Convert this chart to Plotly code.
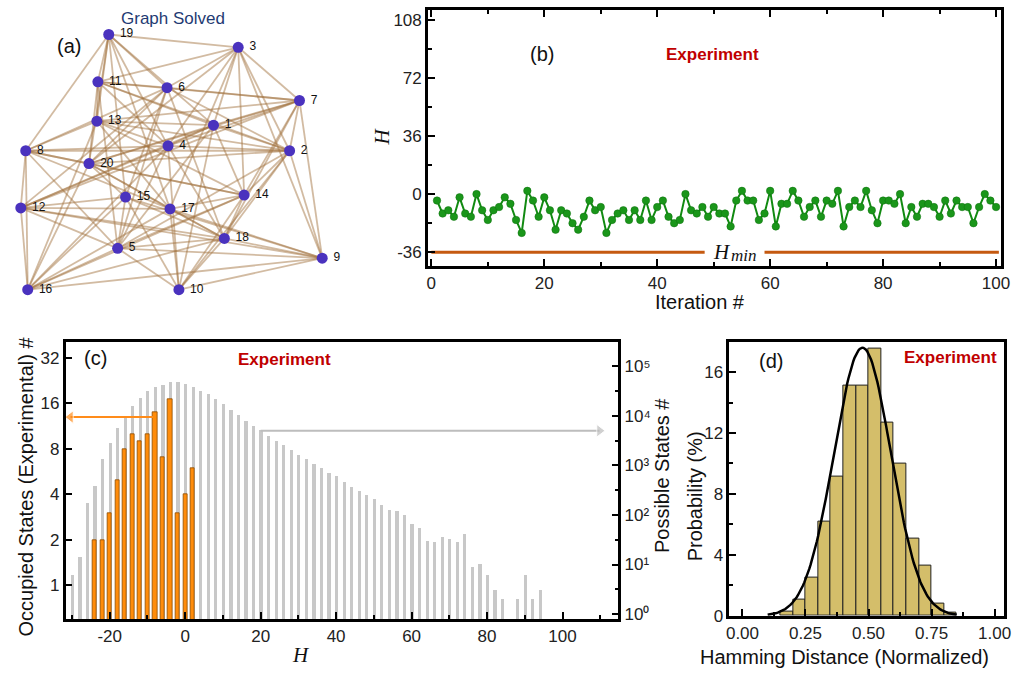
import math
import plotly.graph_objects as go

W, H = 1021, 681

# ---------------- (a) solved graph ----------------
node_ids = [19, 3, 11, 6, 7, 13, 1, 8, 4, 2, 20, 15, 12, 17, 14, 5, 18, 9, 16, 10]
node_x = [107, 238, 96, 166, 300, 95, 213, 23, 167, 290, 87, 124, 18, 169, 244, 116, 224, 323, 25, 178]
node_y = [35, 48, 83, 89, 102, 123, 127, 153, 148, 153, 166, 200, 211, 212, 198, 252, 242, 262, 294, 294]
edges = [
    (19, 3), (19, 11), (19, 13), (19, 8), (19, 20), (19, 4), (19, 1), (19, 6), (19, 15), (19, 17),
    (11, 6), (11, 3), (11, 13), (11, 4), (11, 1), (11, 2), (11, 7), (11, 20), (11, 5),
    (6, 3), (6, 7), (6, 20), (6, 15), (6, 5), (6, 12), (6, 2), (6, 18), (6, 8),
    (13, 1), (13, 4), (13, 2), (13, 7), (13, 8), (13, 16), (13, 14), (13, 17),
    (8, 4), (8, 2), (8, 12), (8, 20), (8, 14), (8, 17), (8, 5), (8, 16),
    (4, 1), (4, 2), (4, 7), (4, 3), (4, 12), (4, 16), (4, 10), (4, 18), (4, 5),
    (3, 7), (3, 1), (3, 2), (3, 20), (3, 14), (3, 9), (3, 17),
    (7, 1), (7, 2), (7, 9), (7, 14), (7, 18), (7, 20), (7, 12),
    (1, 2), (1, 20), (1, 12), (1, 10), (1, 5), (1, 14),
    (2, 9), (2, 18), (2, 10), (2, 14), (2, 20), (2, 5),
    (20, 15), (20, 17), (20, 14), (20, 16), (20, 18),
    (12, 16), (12, 17), (12, 15), (12, 5), (12, 9), (12, 18),
    (15, 5), (15, 16), (15, 10), (15, 9), (15, 18),
    (17, 14), (17, 18), (17, 10), (17, 16), (17, 9),
    (5, 10), (5, 9), (5, 18), (5, 14), (5, 16),
    (16, 18), (16, 9), (16, 14),
    (14, 18), (14, 10),
    (18, 9), (18, 10),
    (9, 10),
]

# ---------------- (b) Hamiltonian per iteration ----------------
iterations = list(range(1, 101))
h_values = [-4, -12, -10, -14, -2, -12, -14, 0, -10, -16,
            -10, -8, -2, -6, -16, -24, 2, -4, -14, -2,
            -10, -22, -10, -12, -18, -22, -14, -4, -10, -8,
            -24, -16, -12, -10, -16, -10, -16, -4, -16, -8,
            -4, -14, -18, -16, 0, -10, -12, -8, -14, -8,
            -12, -12, -20, -4, 2, -4, -4, -16, -12, 2,
            -20, -6, -6, 2, -4, -14, -8, -4, -14, -4,
            -6, 2, -20, -8, -4, -8, 2, -10, -18, -4,
            -4, -6, 0, -18, -8, -14, -6, -6, -8, -14,
            -4, -12, -4, -8, -8, -18, -8, 0, -4, -8]
h_min = -36
h_min_span = (0, 100.5)
h_min_label_x, h_min_label_gap = 53.7, 5.3
b_yticks = [-36, 0, 36, 72, 108]
b_xticks = [0, 20, 40, 60, 80, 100]

# ---------------- (c) energy histograms ----------------
occ_levels = [-24, -22, -20, -18, -16, -14, -12, -10, -8, -6, -4, -2, 0, 2]
occ_counts = [2, 2, 3, 5, 8, 10, 9, 10, 14, 7, 17, 3, 4, 6]

possible_levels = [-30, -28, -26, -24, -22, -20, -18, -16, -14, -12, -10, -8, -6, -4, -2,
                   0, 2, 4, 6, 8, 10, 12, 14, 16, 18, 20, 22, 24, 26, 28, 30, 32, 34, 36,
                   38, 40, 42, 44, 46, 48, 50, 52, 54, 56, 58, 60, 62, 64, 66, 68, 70, 72,
                   74, 76, 78, 80, 82, 84, 88, 90, 92, 94]
possible_counts = [6, 14, 170, 380, 1350, 2800, 5500, 9550, 15500, 22900, 30900, 37150, 41700,
                   46800, 46800, 43600, 38000, 31600, 26900, 21400, 17000, 12900, 10200, 7940,
                   6170, 5130, 3890, 3090, 2510, 2040, 1580, 1350, 1070, 890, 690, 600, 450,
                   355, 295, 245, 210, 158, 123, 117, 98, 65, 55, 30, 28, 36, 32, 28, 40, 9,
                   10, 6, 3, 2, 2, 6, 2, 3]
c_xticks = [-20, 0, 20, 40, 60, 80, 100]
c_left_ticks = [1, 2, 4, 8, 16, 32]
c_right_exps = [0, 1, 2, 3, 4, 5]
occ_arrow = dict(x_from=-8.5, x_to=-30.4, level=13)
possible_arrow = dict(x_from=20, x_to=109.8, level=5000)

# ---------------- (d) Hamming distance distribution ----------------
hd_bin_left = [0.15, 0.20, 0.25, 0.30, 0.35, 0.40, 0.45, 0.50, 0.55, 0.60, 0.65, 0.70, 0.75, 0.80]
hd_prob = [0.26, 1.06, 2.52, 6.19, 9.12, 15.13, 15.13, 17.56, 12.67, 10.02, 5.04, 3.28, 0.80, 0.20]
hd_bin_width = 0.05
fit_amp, fit_center, fit_sigma = 17.6, 0.476, 0.113
fit_x = [0.10 + 0.005 * i for i in range(151)]
fit_y = [fit_amp * math.exp(-((v - fit_center) ** 2) / (2 * fit_sigma ** 2)) for v in fit_x]

SANS = "Liberation Sans, Arial, sans-serif"
SERIF = "Liberation Serif, DejaVu Serif, serif"
RED = "#C00000"
SUPERSCRIPT = str.maketrans("0123456789", "⁰¹²³⁴⁵⁶⁷⁸⁹")


def paper(px, py):
    return px / W, 1 - py / H


def num(v):
    # plain hyphen for negative tick labels
    return f"-{abs(v)}" if v < 0 else f"{v}"


fig = go.Figure()

# (a) edges + nodes
ex, ey = [], []
pos = {n: (x, y) for n, x, y in zip(node_ids, node_x, node_y)}
for a, b in edges:
    ex += [pos[a][0], pos[b][0], None]
    ey += [pos[a][1], pos[b][1], None]
fig.add_trace(go.Scatter(x=ex, y=ey, mode="lines", xaxis="x4", yaxis="y5",
                         line=dict(color="rgba(160,112,60,0.48)", width=1.8),
                         hoverinfo="skip", showlegend=False))
fig.add_trace(go.Scatter(x=node_x, y=node_y, mode="markers+text", xaxis="x4", yaxis="y5",
                         text=[f" {n}" for n in node_ids], textposition="middle right",
                         textfont=dict(family=SANS, size=12, color="#111"),
                         marker=dict(size=11, color="#4A32BE"), showlegend=False))

# (b) H_min reference line, broken around its tag, then the H trace
fig.add_trace(go.Scatter(x=[h_min_span[0], h_min_label_x - h_min_label_gap, None,
                            h_min_label_x + h_min_label_gap, h_min_span[1]],
                         y=[h_min, h_min, None, h_min, h_min], mode="lines", xaxis="x", yaxis="y",
                         line=dict(color="#C55A11", width=3), showlegend=False, hoverinfo="skip"))
fig.add_trace(go.Scatter(x=iterations, y=h_values, mode="lines+markers", xaxis="x", yaxis="y",
                         line=dict(color="#118A11", width=2),
                         marker=dict(size=7.5, color="#1A961A", line=dict(color="#0E700E", width=0.5)),
                         showlegend=False))

# (c) histograms: grey on right (base) axis, orange on left overlay axis
fig.add_trace(go.Bar(x=possible_levels, y=possible_counts, xaxis="x2", yaxis="y2", width=0.85,
                     marker=dict(color="#C8C8C8", line=dict(width=0)), showlegend=False))
fig.add_trace(go.Scatter(x=[possible_arrow["x_from"], possible_arrow["x_to"]],
                         y=[possible_arrow["level"]] * 2, xaxis="x2", yaxis="y2",
                         mode="lines+markers", line=dict(color="#BDBDBD", width=2),
                         marker=dict(symbol="triangle-right", size=[0, 11], color="#BDBDBD"),
                         cliponaxis=False, showlegend=False, hoverinfo="skip"))
fig.add_trace(go.Bar(x=occ_levels, y=occ_counts, xaxis="x2", yaxis="y3", width=1.1,
                     marker=dict(color="#FF8C0A", line=dict(color="#8A4A00", width=0.8)),
                     showlegend=False))
fig.add_trace(go.Scatter(x=[occ_arrow["x_from"], occ_arrow["x_to"]],
                         y=[occ_arrow["level"]] * 2, xaxis="x2", yaxis="y3",
                         mode="lines+markers", line=dict(color="#FF8C1A", width=2),
                         marker=dict(symbol="triangle-left", size=[0, 11], color="#FF8C1A"),
                         cliponaxis=False, showlegend=False, hoverinfo="skip"))

# (d) histogram + gaussian fit
fig.add_trace(go.Bar(x=[l + hd_bin_width / 2 for l in hd_bin_left], y=hd_prob, width=hd_bin_width,
                     xaxis="x3", yaxis="y4",
                     marker=dict(color="#D4BE6A", line=dict(color="#222", width=1)), showlegend=False))
fig.add_trace(go.Scatter(x=fit_x, y=fit_y, mode="lines", xaxis="x3", yaxis="y4",
                         line=dict(color="black", width=2.5), showlegend=False))


def axis(domain, rng, **kw):
    d = dict(domain=domain, range=rng, showline=True, linecolor="black", linewidth=2.5,
             ticks="inside", ticklen=7, tickwidth=2, tickcolor="black", showgrid=False,
             zeroline=False, tickfont=dict(family=SANS, size=17, color="#222"))
    d.update(kw)
    return d


def bare_axis(domain, rng, anchor):
    return dict(domain=domain, range=rng, anchor=anchor, showticklabels=False, ticks="",
                showgrid=False, zeroline=False, showline=False)


minor = dict(ticks="inside", ticklen=4, tickwidth=2, tickcolor="black")

fig.update_layout(
    width=W, height=H, margin=dict(l=0, r=0, t=0, b=0),
    plot_bgcolor="white", paper_bgcolor="white", barmode="overlay", bargap=0,
    # (b)
    xaxis=axis([430 / W, 1010 / W], [-0.6, 100.9], anchor="y", tickvals=b_xticks,
               ticktext=[num(v) for v in b_xticks],
               mirror="ticks", minor=dict(tick0=0, dtick=10, **minor)),
    yaxis=axis([1 - 270 / H, 1 - 10 / H], [-44.5, 114], anchor="x", tickvals=b_yticks,
               ticktext=[num(v) for v in b_yticks],
               mirror=True, minor=dict(tick0=0, dtick=18, **minor)),
    # (c)
    xaxis2=axis([63.3 / W, 622.7 / W], [-31.7, 114.8], anchor="y2", tickvals=c_xticks,
                ticktext=[num(v) for v in c_xticks],
                mirror=True, minor=dict(tick0=0, dtick=10, **minor)),
    yaxis2=axis([1 - 628.3 / H, 1 - 347.3 / H], [-0.1, 5.485], type="log", anchor="x2", side="right",
                tickvals=[10 ** k for k in c_right_exps],
                ticktext=["10" + str(k).translate(SUPERSCRIPT) for k in c_right_exps],
                minor=dict(tickvals=[10 ** (k + 0.5) for k in c_right_exps], **minor)),
    yaxis3=axis([1 - 628.3 / H, 1 - 347.3 / H], [-0.224, 1.610], type="log", anchor="x2",
                overlaying="y2", side="left", tickvals=c_left_ticks,
                ticktext=[str(v) for v in c_left_ticks]),
    # (d)
    xaxis3=axis([735 / W, 1013.3 / W], [-0.052, 1.039], anchor="y4", tick0=0, dtick=0.25,
                tickformat=".2f", mirror=True, minor=dict(dtick=0.125, **minor)),
    yaxis4=axis([1 - 625 / H, 1 - 346.7 / H], [0, 18], anchor="x3", tick0=0, dtick=4,
                mirror=True, minor=dict(dtick=2, **minor)),
    # (a) plain canvas for the graph drawing
    xaxis4=bare_axis([0, 352 / W], [0, 352], "y5"),
    yaxis5=bare_axis([1 - 310 / H, 1], [310, 0], "x4"),
)

ann = []


def label(text, px, py, size=20, color="#111", family=SANS, angle=0, **kw):
    x, y = paper(px, py)
    ann.append(dict(text=text, x=x, y=y, xref="paper", yref="paper", showarrow=False,
                    font=dict(family=family, size=size, color=color), textangle=angle,
                    xanchor="center", yanchor="middle", **kw))


label("(a)", 67, 47)
label("Graph Solved", 172, 19, size=17, color="#1F3B73")
label("(b)", 545, 55)
label("<b>Experiment</b>", 718, 55, size=17, color=RED)
label("<i>H</i>", 383, 138, size=21, family=SERIF, angle=-90)
label("Iteration #", 705, 307)
label("(c)", 94, 363)
label("<b>Experiment</b>", 285, 365, size=17, color=RED)
label("Occupied States (Experimental) #", 23, 494, angle=-90)
label("Possible States #", 667, 483, angle=-90)
label("<i>H</i>", 302, 665, size=21, family=SERIF)
label("(d)", 777, 366)
label("<b>Experiment</b>", 959, 363, size=17, color=RED)
label("Probability (%)", 700, 504, angle=-90)
label("Hamming Distance (Normalized)", 852, 667)

# H_min tag in the gap of the reference line
ann.append(dict(text="<i>H</i>", x=h_min_label_x, y=h_min, xref="x", yref="y", showarrow=False,
                xanchor="right", yanchor="middle", xshift=-3, borderpad=0,
                font=dict(family=SERIF, size=21, color="#111")))
ann.append(dict(text="<i>min</i>", x=h_min_label_x, y=h_min, xref="x", yref="y", showarrow=False,
                xanchor="left", yanchor="middle", xshift=-5, yshift=-3, borderpad=0,
                font=dict(family=SERIF, size=17, color="#111")))

fig.update_layout(annotations=ann)
fig.write_html("out.html")
